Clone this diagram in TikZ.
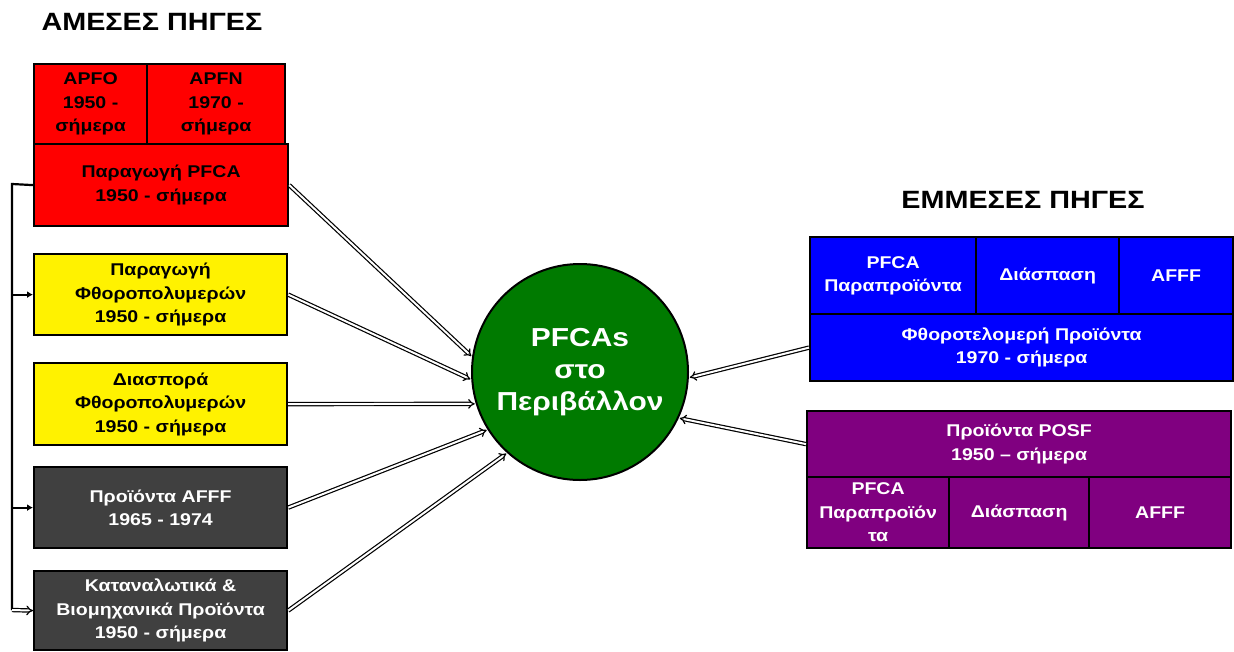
\documentclass[tikz,border=0pt]{standalone}
\usepackage{fontspec}
\setmainfont{Liberation Sans}[FakeStretch=1.15]
\usetikzlibrary{arrows.meta}
\definecolor{boxgrey}{RGB}{64,64,64}
\definecolor{boxpurple}{RGB}{128,0,128}
\definecolor{boxgreen}{RGB}{0,122,0}
\tikzset{
  cell/.style={draw=black, line width=2.2pt, anchor=north west, inner sep=0pt,
    align=center, font=\bfseries\fontsize{17}{23.5}\selectfont},
  heading/.style={font=\bfseries\fontsize{25}{28}\selectfont},
  flow/.style={draw=black, line width=1.2pt, double=white, double distance=2pt,
    -{Implies}, shorten >=1pt},
  feed/.style={draw=black, line width=2.2pt, -{Latex[length=6pt,width=7pt]}}
}
\begin{document}
\begin{tikzpicture}[x=1pt,y=-1pt]
\useasboundingbox (0,0) rectangle (1234,651);

% headings
\node[heading] (direct) at (152,22) {ΑΜΕΣΕΣ ΠΗΓΕΣ};
\node[heading] (indirect) at (1023,200) {ΕΜΜΕΣΕΣ ΠΗΓΕΣ};

% direct sources
\node[cell, fill=red, minimum width=113, minimum height=80] (apfo) at (33,63) {APFO\\1950 -\\σήμερα};
\node[cell, fill=red, minimum width=138, minimum height=80] (apfn) at (146,63) {APFN\\1970 -\\σήμερα};
\node[cell, fill=red, minimum width=254, minimum height=82] (pfca) at (33,143) {Παραγωγή PFCA\\1950 - σήμερα};
\node[cell, fill=yellow, minimum width=253, minimum height=81] (yel1) at (33,253) {Παραγωγή\\Φθοροπολυμερών\\1950 - σήμερα};
\node[cell, fill=yellow, minimum width=253, minimum height=82] (yel2) at (33,362) {Διασπορά\\Φθοροπολυμερών\\1950 - σήμερα};
\node[cell, fill=boxgrey, text=white, minimum width=253, minimum height=81] (grey1) at (33,466) {Προϊόντα AFFF\\1965 - 1974};
\node[cell, fill=boxgrey, text=white, minimum width=253, minimum height=79] (grey2) at (33,570) {Καταναλωτικά \&\\Βιομηχανικά Προϊόντα\\1950 - σήμερα};

% centre
\node[circle, draw=black, line width=2pt, fill=boxgreen, minimum size=216, inner sep=0pt,
  text=white, align=center, font=\bfseries\fontsize{26}{32}\selectfont] (env) at (580,372)
  {PFCAs\\στο\\Περιβάλλον};

% indirect sources: fluorotelomer group
\node[cell, fill=blue, text=white, minimum width=166, minimum height=77] (b1) at (809,236) {PFCA\\Παραπροϊόντα};
\node[cell, fill=blue, text=white, minimum width=143, minimum height=77] (b2) at (975,236) {Διάσπαση};
\node[cell, fill=blue, text=white, minimum width=114, minimum height=77] (b3) at (1118,236) {AFFF};
\node[cell, fill=blue, text=white, minimum width=423, minimum height=67] (b4) at (809,313) {Φθοροτελομερή Προϊόντα\\1970 - σήμερα};

% indirect sources: POSF group
\node[cell, fill=boxpurple, text=white, minimum width=424, minimum height=66] (p1) at (806,410) {Προϊόντα POSF\\1950 – σήμερα};
\node[cell, fill=boxpurple, text=white, minimum width=142, minimum height=71] (p2) at (806,476) {PFCA\\Παραπροϊόν\\τα};
\node[cell, fill=boxpurple, text=white, minimum width=140, minimum height=71] (p3) at (948,476) {Διάσπαση};
\node[cell, fill=boxpurple, text=white, minimum width=142, minimum height=71] (p4) at (1088,476) {AFFF};

% flows into the environment
\draw[flow] (pfca.east) -- (env.172);
\draw[flow] (yel1.east) -- (env.184);
\draw[flow] (yel2.east) -- (env.197);
\draw[flow] (grey1.east) -- (env.212);
\draw[flow] (grey2.east) -- (env.228);
\draw[flow] (b4.west) -- (env.-3);
\draw[flow] (p1.west) -- (env.-25);

% side bracket on the left
\coordinate (btop) at (12,184);
\coordinate (bbot) at (12,610);
\draw[line width=2.2pt] (pfca.west) -- (btop) -- (bbot);
\draw[feed] (btop |- yel1.west) -- (yel1.west);
\draw[feed] (btop |- grey1.west) -- (grey1.west);
\draw[flow, shorten >=0pt] (bbot) -- (grey2.west);
\end{tikzpicture}
\end{document}
